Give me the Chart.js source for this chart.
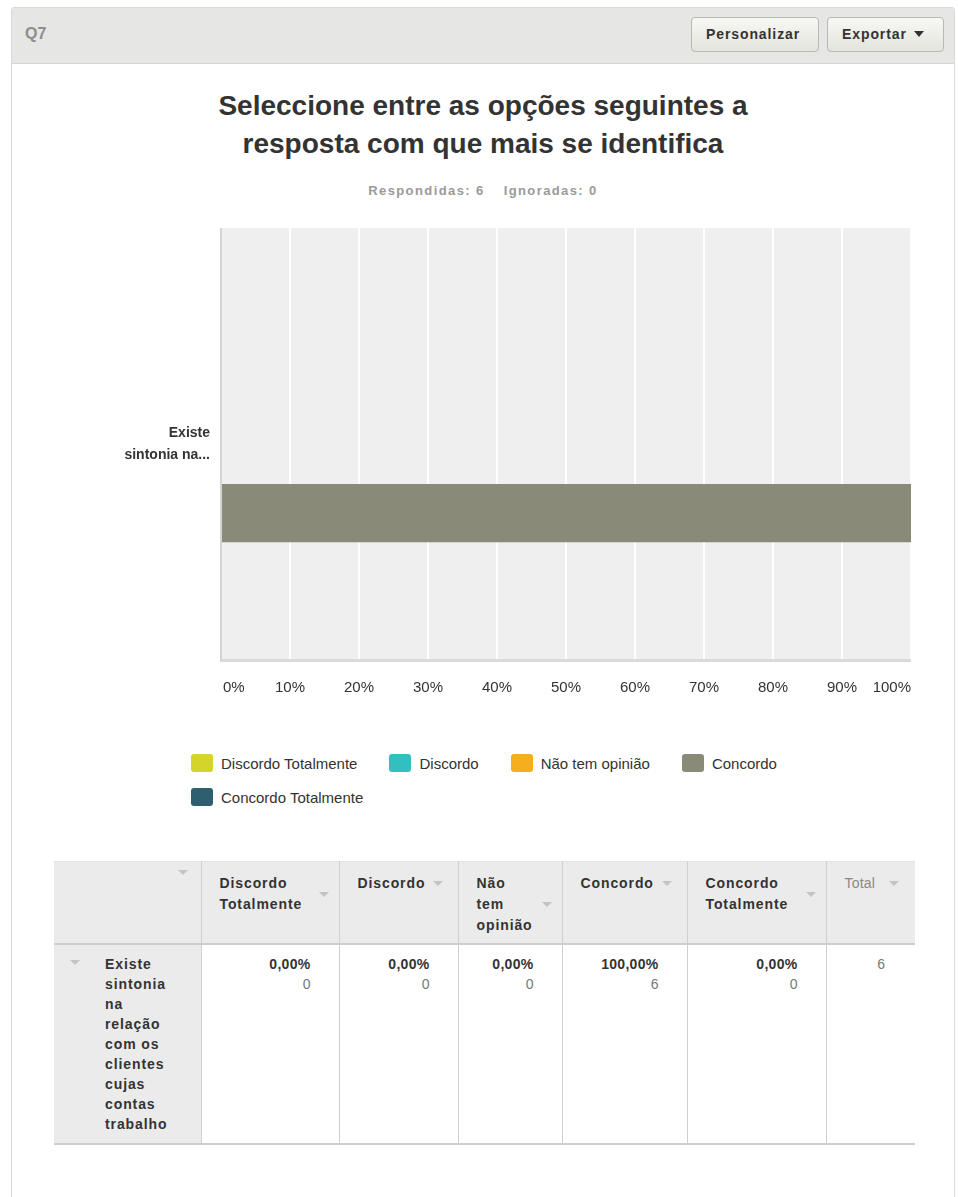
<!DOCTYPE html>
<html lang="pt">
<head>
<meta charset="utf-8">
<title>Q7</title>
<script src="https://cdn.jsdelivr.net/npm/chart.js@4/dist/chart.umd.min.js"></script>
<style>
  body { margin: 0; width: 958px; height: 1197px; background: #fff; font-family: "Liberation Sans", Arial, sans-serif; color: #333; position: relative; overflow: hidden; }
  .panel { position: absolute; left: 11px; top: 7px; width: 944px; height: 1200px; border: 1px solid #dadada; border-radius: 3px 3px 0 0; box-sizing: border-box; }
  .panel-head { position: absolute; left: 0; top: 0; right: 0; height: 55px; background: #e6e6e4; border-bottom: 1px solid #d6d6d4; }
  .qnum { position: absolute; left: 13px; top: 17px; font-size: 16px; font-weight: bold; color: #8e8e8e; }
  .btn { position: absolute; top: 9px; height: 35px; box-sizing: border-box; border: 1px solid #b8b8b4; border-radius: 4px; background: linear-gradient(#f7f7f4, #e4e4de); font-size: 14px; font-weight: bold; letter-spacing: 0.9px; line-height: 33px; color: #333; padding-left: 14px; }
  .btn .caret { display: inline-block; width: 0; height: 0; border-left: 5px solid transparent; border-right: 5px solid transparent; border-top: 6px solid #333; margin-left: 7px; vertical-align: 2px; }
  .title { position: absolute; left: 11px; width: 944px; top: 87px; text-align: center; font-size: 28px; font-weight: bold; line-height: 38px; color: #333; }
  .summary { position: absolute; left: 11px; width: 944px; top: 183px; text-align: center; font-size: 13px; font-weight: bold; color: #9a9a9a; letter-spacing: 1.4px; }
  .summary span + span { margin-left: 19px; }
  #chartBox { position: absolute; left: 100px; top: 228px; width: 811px; height: 482px; }
  #legend { position: absolute; left: 191px; top: 754px; width: 660px; display: flex; flex-wrap: wrap; font-size: 15px; color: #333; }
  #legend .item { display: flex; align-items: center; margin: 0 32px 16px 0; height: 18px; }
  #legend .swatch { width: 22px; height: 18px; border-radius: 3px; margin-right: 8px; }
  table { position: absolute; left: 54px; top: 861px; border-collapse: collapse; table-layout: fixed; width: 861px; font-size: 14px; }
  th, td { border-left: 1px solid #cfcfcf; vertical-align: top; box-sizing: border-box; }
  th:first-child, td:first-child { border-left: none; }
  thead tr { background: #ebebeb; border-top: 1px solid #e2e2e2; border-bottom: 2px solid #cdcdcd; }
  th { height: 82px; text-align: left; font-weight: bold; letter-spacing: 0.9px; padding: 11px 10px 0 18px; line-height: 21px; }
  th .wrap { display: flex; align-items: center; }
  th .arrow, td .arrow { display: inline-block; width: 0; height: 0; border-left: 5px solid transparent; border-right: 5px solid transparent; border-top: 5px solid #c4c4c4; }
  th .wrap .arrow { margin-left: 8px; flex: none; }
  th.total { font-weight: normal; color: #888; letter-spacing: 0.2px; }
  th.blank { position: relative; }
  th.blank .arrow { position: absolute; right: 13px; top: 8px; }
  tbody tr { border-bottom: 2px solid #cdcdcd; }
  td { height: 200px; padding: 9px 28px 0 10px; text-align: right; line-height: 20px; }
  td.row-head { background: #ebebeb; text-align: left; position: relative; padding-left: 51px; }
  td.row-head .arrow { position: absolute; left: 16px; top: 15px; }
  td.row-head .text { width: 74px; font-weight: bold; letter-spacing: 0.9px; }
  td .pct { font-weight: bold; letter-spacing: 0.3px; }
  td .cnt { color: #777; }
  td.total-cell { color: #777; padding-right: 30px; }
</style>
</head>
<body>
<div class="panel">
  <div class="panel-head">
    <div class="qnum">Q7</div>
    <div class="btn" style="left:679px;width:128px;">Personalizar</div>
    <div class="btn" style="left:815px;width:117px;">Exportar<span class="caret"></span></div>
  </div>
</div>
<div class="title">Seleccione entre as opções seguintes a<br>resposta com que mais se identifica</div>
<div class="summary" id="summary"></div>
<div id="chartBox"><canvas id="q7Chart" width="811" height="482"></canvas></div>
<div id="legend"></div>
<table id="q7Table"></table>

<script>
// question data
const categories = [['Existe', 'sintonia na...']];
const rowFullLabel = 'Existe sintonia na relação com os clientes cujas contas trabalho';
const answerLabels = ['Discordo Totalmente', 'Discordo', 'Não tem opinião', 'Concordo', 'Concordo Totalmente'];
const answerPercents = [0, 0, 0, 100, 0];
const answerCounts = [0, 0, 0, 6, 0];
const answeredCount = 6;
const skippedCount = 0;
const xTickValues = [0, 10, 20, 30, 40, 50, 60, 70, 80, 90, 100];

const answerColors = ['#d3d52a', '#33bfbf', '#f7ae1e', '#898a78', '#2f5f6e'];

document.getElementById('summary').innerHTML =
    '<span>Respondidas: ' + answeredCount + '</span><span>Ignoradas: ' + skippedCount + '</span>';

// gray plot background
const plotBackground = {
    id: 'plotBackground',
    beforeDraw(chart) {
        const a = chart.chartArea;
        const ctx = chart.ctx;
        ctx.save();
        ctx.fillStyle = '#efefef';
        ctx.fillRect(a.left, a.top, a.right - a.left, a.bottom - a.top);
        ctx.restore();
    }
};

// percent labels under the x axis, end labels kept inside the plot
const xTickLabels = {
    id: 'xTickLabels',
    afterDraw(chart) {
        const x = chart.scales.x;
        const ctx = chart.ctx;
        ctx.save();
        ctx.font = '15px "Liberation Sans", Arial, sans-serif';
        ctx.fillStyle = '#333';
        ctx.textBaseline = 'middle';
        xTickValues.forEach((v, i) => {
            let px = x.getPixelForValue(v);
            if (i === 0) { ctx.textAlign = 'left'; px += 2; }
            else if (i === xTickValues.length - 1) { ctx.textAlign = 'right'; }
            else { ctx.textAlign = 'center'; }
            ctx.fillText(v + '%', px, chart.chartArea.bottom + 28);
        });
        ctx.restore();
    }
};

const chart = new Chart(document.getElementById('q7Chart'), {
    type: 'bar',
    data: {
        labels: categories,
        datasets: answerLabels.map((label, i) => ({
            label: label,
            data: [answerPercents[i]],
            backgroundColor: answerColors[i],
            borderWidth: 0
        }))
    },
    options: {
        indexAxis: 'y',
        responsive: false,
        animation: false,
        devicePixelRatio: 1,
        layout: { padding: 0 },
        categoryPercentage: 0.8,
        barPercentage: 0.84,
        plugins: {
            legend: { display: false },
            tooltip: { enabled: false }
        },
        scales: {
            x: {
                min: 0,
                max: 100,
                afterBuildTicks(scale) {
                    scale.ticks = xTickValues.map(v => ({ value: v }));
                },
                afterFit(scale) {
                    scale.height = 50;
                    scale.paddingLeft = 0;
                    scale.paddingRight = 0;
                },
                ticks: { display: false },
                grid: { color: '#ffffff', lineWidth: 2, drawTicks: false },
                border: { display: true, color: '#dadada', width: 3 }
            },
            y: {
                afterFit(scale) {
                    scale.width = 121;
                    scale.paddingTop = 0;
                    scale.paddingBottom = 0;
                },
                ticks: {
                    padding: 11,
                    color: '#333',
                    font: { family: '"Liberation Sans", Arial, sans-serif', size: 14, weight: 'bold', lineHeight: 1.6 }
                },
                grid: { display: false, drawTicks: false },
                border: { display: true, color: '#d4d4d4', width: 2 }
            }
        }
    },
    plugins: [plotBackground, xTickLabels]
});

// legend from the chart's datasets; first four share a row
const legendEl = document.getElementById('legend');
chart.data.datasets.forEach((ds, i) => {
    const item = document.createElement('div');
    item.className = 'item';
    item.innerHTML = '<span class="swatch" style="background:' + ds.backgroundColor + '"></span><span>' + ds.label + '</span>';
    legendEl.appendChild(item);
    if (i === 3) {
        const br = document.createElement('div');
        br.style.flexBasis = '100%';
        br.style.height = '0';
        legendEl.appendChild(br);
    }
});

// summary table
const colWidths = [147, 138, 119, 104, 125, 139, 89];
const formatPct = v => v.toFixed(2).replace('.', ',') + '%';
let html = '<colgroup>' + colWidths.map(w => '<col style="width:' + w + 'px">').join('') + '</colgroup>';
html += '<thead><tr><th class="blank"><span class="arrow"></span></th>';
answerLabels.forEach(label => {
    html += '<th><div class="wrap"><span>' + label + '</span><span class="arrow"></span></div></th>';
});
html += '<th class="total"><div class="wrap"><span>Total</span><span class="arrow" style="margin-left:14px"></span></div></th></tr></thead>';
html += '<tbody><tr><td class="row-head"><span class="arrow"></span><div class="text">' + rowFullLabel + '</div></td>';
answerPercents.forEach((p, i) => {
    html += '<td><div class="pct">' + formatPct(p) + '</div><div class="cnt">' + answerCounts[i] + '</div></td>';
});
html += '<td class="total-cell">' + answeredCount + '</td></tr></tbody>';
document.getElementById('q7Table').innerHTML = html;
</script>
</body>
</html>
